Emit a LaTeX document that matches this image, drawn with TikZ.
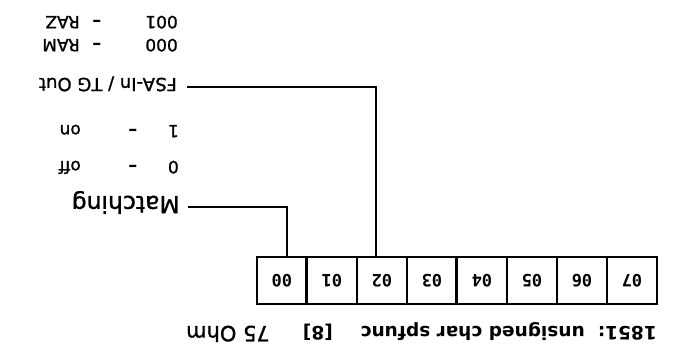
\documentclass[tikz,border=0pt]{standalone}
\usepackage{fontspec}
\setmainfont{DejaVu Sans}
\setmonofont{DejaVu Sans Mono}
\newfontfamily\lblfont[FakeBold=1.2]{DejaVu Sans}
\begin{document}
\begin{tikzpicture}[x=1pt,y=1pt,rotate=180,transform shape,
  cell/.style={draw,line width=1.6pt,minimum width=50pt,minimum height=47pt,inner sep=0pt,
    font=\ttfamily\bfseries\fontsize{17}{17}\selectfont},
  lbl/.style={anchor=base west,inner sep=0pt,font=\lblfont\fontsize{17}{17}\selectfont},
  dsh/.style={anchor=base,inner sep=0pt,font=\bfseries\fontsize{18}{18}\selectfont},
  ttl/.style={anchor=base west,inner sep=0pt,font=\bfseries\fontsize{18.5}{18.5}\selectfont},
  wire/.style={line width=1.4pt}]
\useasboundingbox (0,0) rectangle (679,359);
\foreach \i/\x in {7/47,6/97,5/147,4/197,3/247,2/297,1/347,0/397}
  \node[cell] (c\i) at (\x,280.5) {0\i};
\draw[line width=3pt] (c4.north east) -- (c4.south east);
\draw[line width=3pt] (c1.north east) -- (c1.south east);
% title
\node[ttl] (t1) at (22,326) {1851:};
\node[ttl] (t2) at (94,326) {unsigned char spfunc};
\node[ttl] (t3) at (346,326) {[8]};
\node[lbl,font=\lblfont\fontsize{21}{21}\selectfont] (t4) at (409,326) {75 Ohm};
% matching
\node[lbl,font=\lblfont\fontsize{23.5}{23.5}\selectfont] (match) at (499,196) {Matching};
\node[lbl] (m0) at (500,161) {0};
\node[dsh] (m0d) at (546,161) {–};
\node[lbl] (m0t) at (598,161) {off};
\node[lbl] (m1) at (500,125) {1};
\node[dsh] (m1d) at (546,125) {–};
\node[lbl] (m1t) at (598,125) {on};
% FSA
\node[lbl,font=\lblfont\fontsize{18}{18}\selectfont] (fsa) at (502,78) {FSA-In / TG Out};
\node[lbl] (f0) at (501,39) {000};
\node[dsh] (f0d) at (582,39) {–};
\node[lbl] (f0t) at (599,39) {RAM};
\node[lbl] (f1) at (501,16) {001};
\node[dsh] (f1d) at (582,16) {–};
\node[lbl] (f1t) at (599,16) {RAZ};
% connectors
\draw[wire] ([xshift=-5pt]c0.south) |- ([xshift=-8pt,yshift=11pt]match.base west);
\draw[wire] ([xshift=6pt]c2.south) |- ([xshift=-10pt,yshift=9pt]fsa.base west);
\end{tikzpicture}
\end{document}
